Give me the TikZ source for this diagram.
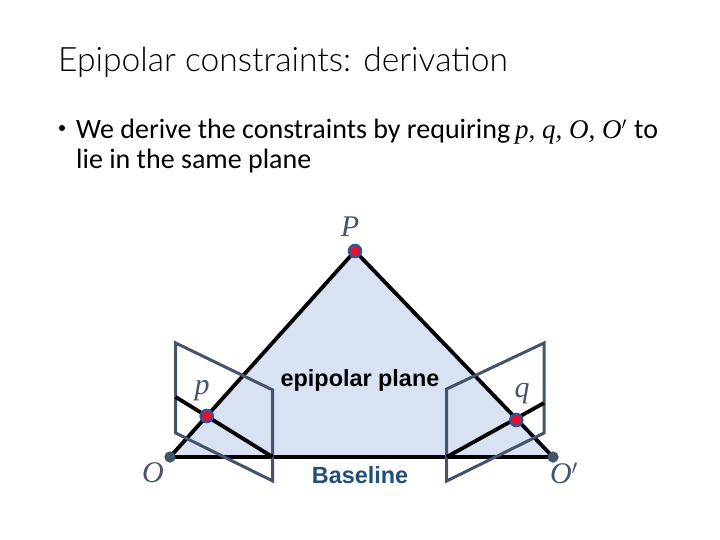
\documentclass[tikz,border=0pt]{standalone}
\usepackage{fontspec}
\setmainfont{Carlito}
\newfontfamily\titlefont{Lato Light}
\newfontfamily\arialfont{Liberation Sans}
\newfontfamily\mathfont{Liberation Serif}
\definecolor{planefill}{HTML}{D9E2F3}
\definecolor{frameline}{HTML}{44546A}
\definecolor{baselinetext}{HTML}{1F4E79}
\definecolor{dotred}{HTML}{E8112D}
\definecolor{dotblue}{HTML}{2F5597}
\tikzset{
  x=1pt,y=-1pt,
  ray/.style={draw=black,line width=3.8pt},
  frame/.style={draw=frameline,line width=3pt,line join=miter},
  point/.style={circle,fill=dotred,draw=dotblue,line width=2.5pt,minimum size=12pt,inner sep=0pt},
  center/.style={circle,fill=frameline,minimum size=11pt,inner sep=0pt},
  mathlabel/.style={text=frameline,font=\mathfont\itshape\fontsize{30}{30}\selectfont,inner sep=0pt},
  body/.style={anchor=base west,inner sep=0pt,font=\fontsize{28}{28}\selectfont},
  caption/.style={inner sep=0pt,font=\arialfont\bfseries\fontsize{23.4}{24}\selectfont}
}
\begin{document}
\begin{tikzpicture}
\useasboundingbox (0,0) rectangle (720,540);
\coordinate (l1) at (175.7,343);
\coordinate (l2) at (272.7,390);
\coordinate (l3) at (272.7,481);
\coordinate (l4) at (175.7,433);
\coordinate (la) at (175.7,397);
\coordinate (lb) at (272.7,457);
\coordinate (r1) at (446.7,389);
\coordinate (r2) at (544,343);
\coordinate (r3) at (544,433);
\coordinate (r4) at (446.7,481);
\coordinate (ra) at (544,403);
\coordinate (rb) at (446.7,457);
\node[center] (O) at (170,457) {};
\node[center] (Op) at (553,457) {};
\coordinate (Pc) at (355,251);
\fill[planefill] (O.center) -- (Pc) -- (Op.center) -- cycle;
\draw[ray] (O.center) -- (Pc) -- (Op.center) -- cycle;
\draw[frame] (l1) -- (l2) -- (l3) -- (l4) -- cycle;
\draw[frame] (r1) -- (r2) -- (r3) -- (r4) -- cycle;
\draw[ray] (la) -- (lb);
\draw[ray] (ra) -- (rb);
\node[center] at (O) {};
\node[center] at (Op) {};
\node[point] (P) at (Pc) {};
\node[point] (p) at (206.7,416) {};
\node[point] (q) at (516.3,420) {};
\node[mathlabel] at (350,227) {P};
\node[mathlabel] at (202,391) {p};
\node[mathlabel] at (522,394) {q};
\node[mathlabel] at (153,473) {O};
\node[mathlabel] at (564,473) {O$'$};
\node[caption] at (360,380) {epipolar plane};
\node[caption,text=baselinetext] at (360,475) {Baseline};
\node[anchor=base west,inner sep=0pt,font=\titlefont\fontsize{33.6}{34}\selectfont] at (58,72) {Epipolar constraints: derivation};
\fill (62,128) circle (3pt);
\node[body] at (76,139) {We derive the constraints by requiring};
\node[body,font=\mathfont\itshape\fontsize{27}{27}\selectfont] at (515,139) {p, q, O, O$'$};
\node[body] at (634,139) {to};
\node[body] at (76,169) {lie in the same plane};
\end{tikzpicture}
\end{document}
